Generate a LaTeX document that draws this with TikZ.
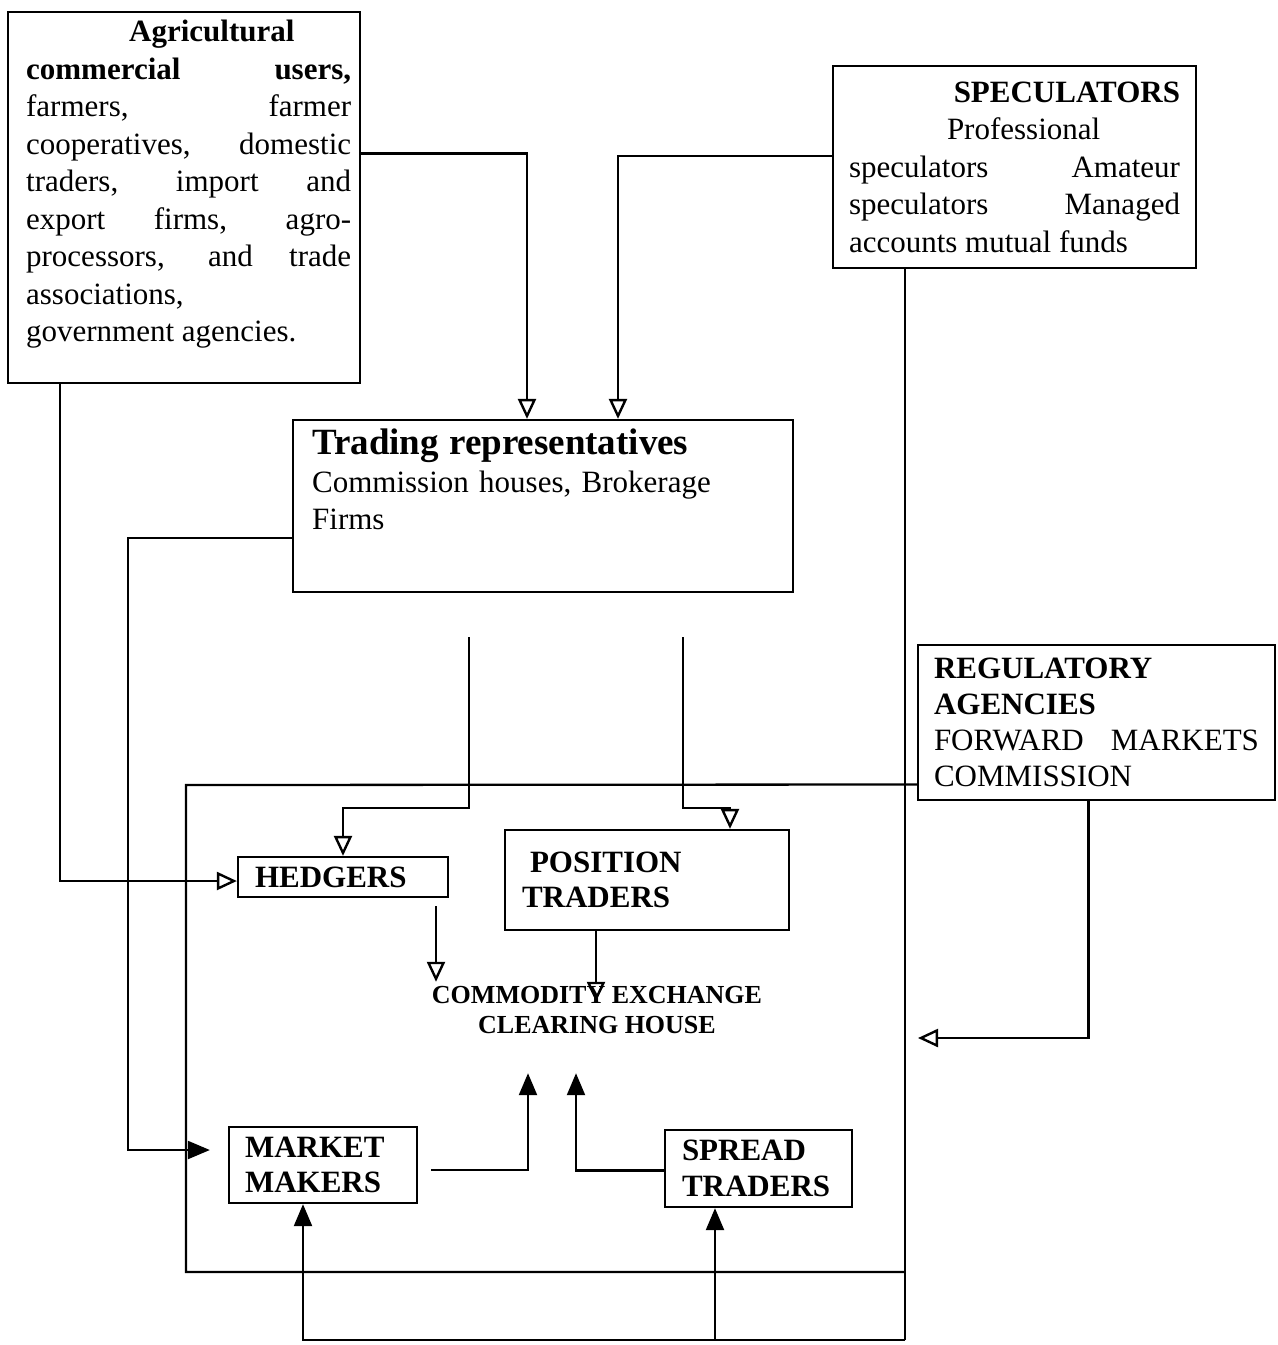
\documentclass[tikz,border=0pt]{standalone}
\usepackage{fontspec}
\setmainfont{Liberation Serif}
\usetikzlibrary{arrows.meta}

\tikzset{
  box/.style={draw, inner sep=0pt},
  bodytext/.style={font=\fontsize{31}{37.5}\selectfont},
  capsbold/.style={font=\fontsize{31}{35.5}\selectfont\bfseries},
  openarr/.style={-{Triangle[open,length=20pt,width=18pt,line width=2.4pt]}},
  solidarr/.style={-{Triangle[length=22pt,width=18pt]}},
}

\begin{document}
\begin{tikzpicture}[x=1pt,y=-1pt,line width=2.3pt]
    \useasboundingbox (0,0) rectangle (1278,1345);
    %% agricultural users
    \node[box, minimum width=352pt, minimum height=371pt] (agri) at (184,197.5) {};
    \node[bodytext, anchor=north west, inner sep=0pt, text width=325pt, align=justify] (agritext) at (25,19)
      {\hspace*{103pt}\textbf{Agricultural}\\
       \textbf{commercial users,}\linebreak farmers, farmer\linebreak
       cooperatives, domestic\linebreak traders, import and\linebreak
       export firms, agro-\linebreak processors, and trade\linebreak
       associations,\\ government agencies.};
    %% speculators
    \node[box, bodytext, text width=331pt, inner xsep=16pt, minimum height=202pt, align=justify] (spec) at (1014.5,167)
      {\hfill\textbf{SPECULATORS}\\
       \hspace*{98pt}Professional\\
       speculators\hfill Amateur\\
       speculators\hfill Managed\\
       accounts mutual funds};
    %% trading representatives
    \node[box, minimum width=500pt, minimum height=172pt] (trading) at (543,506) {};
    \node[bodytext, anchor=north west, inner sep=0pt, text width=480pt, align=left] (tradingtext) at (311,428)
      {{\fontsize{37}{40}\selectfont\bfseries Trading representatives}\\
       Commission houses, Brokerage\\ Firms};
    %% regulatory agencies
    \node[box, font=\fontsize{31}{36}\selectfont, text width=325pt, inner xsep=16pt, minimum height=155pt, align=justify] (reg) at (1096.5,722.5)
      {\textbf{REGULATORY}\\ \textbf{AGENCIES}\\ FORWARD\hfill MARKETS\\ COMMISSION};
    %% exchange floor
    \node[box, capsbold, text width=176pt, inner xsep=17pt, minimum height=40pt, align=left] (hedgers) at (343,877) {HEDGERS};
    \node[box, capsbold, text width=250pt, inner xsep=17pt, minimum height=100pt, align=left] (postr) at (647,880)
      {\hspace*{8pt}POSITION\\ TRADERS};
    \node[box, capsbold, text width=156pt, inner xsep=16pt, minimum height=76pt, align=left] (mm) at (323,1165)
      {MARKET\\ MAKERS};
    \node[box, capsbold, text width=153pt, inner xsep=17pt, minimum height=77pt, align=left] (spread) at (758.5,1168.5)
      {SPREAD\\ TRADERS};
    \node[font=\fontsize{26}{30}\selectfont\bfseries, align=center] (comm) at (597,1010)
      {COMMODITY EXCHANGE\\ CLEARING HOUSE};

    \coordinate (ftl) at (186,785);
    \coordinate (fbl) at (186,1272);
    \coordinate (sbot) at (905,1340);
    \draw ([yshift=-62pt]reg.west) -- (ftl) -- (fbl) -- (sbot |- fbl);
    \draw ([xshift=-109.5pt]spec.south) -- (sbot);

    %% into the trading representatives
    \draw[openarr] ([yshift=44pt]agri.east) -| ([xshift=-16pt]trading.north);
    \draw[openarr] ([yshift=11pt]spec.west) -| ([xshift=75pt]trading.north);
    %% to hedgers and market makers
    \draw[openarr] ([xshift=-124pt]agri.south) |- ([yshift=-4pt]hedgers.west);
    \coordinate (tbend) at (128,1150);
    \draw[solidarr, shorten >=18pt] ([yshift=-32pt]trading.west) -| (tbend) -- ([yshift=15pt]mm.west);
    \coordinate (hgap) at (469,637);
    \coordinate (pgap) at (683,637);
    \draw[openarr] (hgap) -- ++(0,171) -| (hedgers.north);
    \draw[openarr] (pgap) -- ++(0,171) -| ([xshift=83pt]postr.north);
    %% to the clearing house
    \coordinate (hout) at ([xshift=93pt,yshift=-8pt]hedgers.south);
    \draw[openarr] (hout) -- (hout |- comm.north);
    \coordinate (pout) at ([xshift=-51pt]postr.south);
    \draw[openarr, shorten >=-20pt] (pout) -- (pout |- comm.north);
    \coordinate (mmup) at ([xshift=-69pt,yshift=-35pt]comm.south);
    \coordinate (spup) at ([xshift=-21pt,yshift=-35pt]comm.south);
    \draw[solidarr] ([xshift=13pt,yshift=-5pt]mm.east) -| (mmup);
    \draw[solidarr] ([yshift=-2pt]spread.west) -| (spup);
    %% speculators feed
    \draw[solidarr] (sbot) -| ([xshift=-20pt]mm.south);
    \draw[solidarr] (sbot) -| ([xshift=-43.5pt]spread.south);
    %% regulation
    \coordinate (regin) at (918,1038);
    \draw[openarr] ([xshift=-8pt]reg.south) |- (regin);
\end{tikzpicture}
\end{document}
